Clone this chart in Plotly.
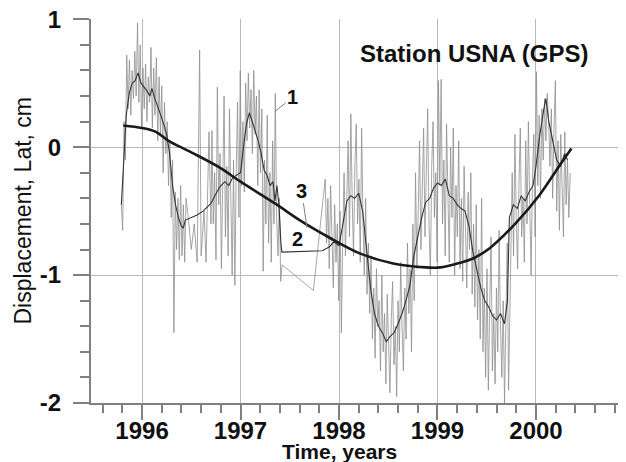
import numpy as np
import plotly.graph_objects as go

# ---------------- data (cm, years) ----------------
STEP = 5 / 365.25  # sampling step of the raw series (5 days)

raw_a_start = 1995.79
raw_a = [-0.45, -0.65, 0.20, -0.10, 0.72, 0.30, 0.68, 0.25, 0.60, 0.38,
         0.75, 0.40, 0.97, 0.35, 0.80, 0.15, 0.62, 0.30, 0.65, 0.20,
         0.55, 0.35, 0.78, 0.15, 0.62, 0.25, 0.70, 0.05, 0.55, 0.10,
         0.48, -0.20, 0.35, -0.05, 0.20, -0.30, 0.05, -0.55, -0.10, -1.45,
         -0.35, -0.80, -0.40, -0.88, -0.30, -0.85, -0.45, -0.90, -0.40]

raw_b_t = [1996.47, 1996.50, 1996.53, 1996.56, 1996.585, 1996.60, 1996.63, 1996.65, 1996.68, 1996.70]
raw_b = [-0.55, -0.80, -0.60, -0.90, 0.76, -0.85, -0.50, -0.90, 0.12, -0.60]

raw_c_start = 1996.71
raw_c = [0.13, -0.60, -0.20, -0.88, 0.47, -0.45, -0.05, -0.95, -0.25, 0.40,
         -0.70, -0.15, -0.85, 0.30, -0.40, -1.00, -0.10, -1.08, -0.20, 0.35,
         -0.55, 0.60, -0.30, 0.20, -0.35, 0.50, 0.05, 0.58, 0.15, 0.45,
         -0.05, 0.60, 0.10, 0.40, -0.30, 0.45, -0.20, 0.30, -0.97, -0.10,
         -0.60, 0.25, -0.75, -0.20, -0.90, 0.05, -0.60, 0.42, -0.55, -0.85,
         -0.40, -1.05, -0.92]

raw_gap_t = [1997.74]
raw_gap = [-1.12]

raw_d_start = 1997.86
raw_d = [-0.25, -0.75, -0.40, -0.95, -0.30, -0.80, -1.10, -0.45, -0.90, -0.60,
         -1.20, -0.50, -1.45, -0.70, -0.20, -0.85, -0.35, 0.05, -0.70, 0.26,
         -0.40, -0.85, -0.15, 0.18, -0.60, -0.25, -0.90, 0.15, -0.55, -1.00,
         -0.40, -1.15, -0.75, -1.30, -0.85, -1.50, -1.10, -1.65, -0.95, -1.40,
         -1.20, -1.75, -1.00, -1.60, -1.30, -1.85, -1.15, -1.50, -1.92, -1.35,
         -1.05, -1.70, -1.40, -1.95, -1.20, -1.60, -0.90, -1.40, -1.75, -1.10,
         -1.50, -0.75, -1.30, -0.95, -1.60, -0.60, -1.20, -0.20, -0.95, -0.50,
         0.05, -0.80, -0.35, 0.15, -0.70, -0.25, 0.30, -0.60, -1.00, -0.15,
         0.20, -0.55, -0.20, -0.90, 0.52, -0.30, 0.53, -0.60, -0.10, -0.85,
         0.18, -0.35, -0.90, 0.00, -0.55, 0.15, -1.00, -0.30, -0.70, 0.05,
         -0.95, -0.40, -1.05, -0.15, -0.60, -1.10, -0.35, -0.80, -0.20, -1.15,
         -0.60, -1.25, -0.45, -1.35, -0.80, -1.50, -0.40, -1.60, -1.10, -1.80,
         -0.95, -1.90, -1.25, -0.70, -1.75, -1.30, -1.85, -1.10, -1.60, -0.65,
         -1.40, -1.80, -1.20, -2.00, -1.35, -0.75, -1.90, -1.30]

raw_e_start = 1999.745
raw_e = [-0.60, -0.20, -0.85, 0.10, -0.55, -0.95, -0.30, 0.15, -0.70, -0.40,
         -0.90, 0.05, -0.60, 0.20, -0.45, -1.00, -0.25, 0.10, -0.70, 0.59,
         -0.30, 0.25, -0.40, 0.30, -0.10, 0.38, 0.05, 0.42, 0.20, -0.15,
         0.30, -0.40, 0.15, 0.52, -0.50, 0.05, -0.65, 0.10, -0.30, -0.70,
         0.12, -0.45, -0.10, -0.55, -0.20]

smooth_t = [1995.79, 1995.81, 1995.84, 1995.87, 1995.90, 1995.93, 1995.96, 1995.99, 1996.02, 1996.05,
            1996.08, 1996.10, 1996.13, 1996.16, 1996.19, 1996.22, 1996.25, 1996.28, 1996.31, 1996.34,
            1996.37, 1996.40, 1996.42, 1996.44, 1996.50, 1996.56, 1996.62, 1996.66, 1996.70, 1996.74,
            1996.79, 1996.84, 1996.88, 1996.92, 1996.96, 1997.00, 1997.03, 1997.06, 1997.09, 1997.12,
            1997.15, 1997.18, 1997.21, 1997.24, 1997.27, 1997.30, 1997.33, 1997.35, 1997.37, 1997.39,
            1997.41, 1997.42, 1997.83, 1997.90, 1997.95, 1998.00, 1998.04, 1998.08, 1998.12, 1998.16,
            1998.20, 1998.24, 1998.28, 1998.32, 1998.36, 1998.40, 1998.44, 1998.48, 1998.52, 1998.56,
            1998.60, 1998.64, 1998.68, 1998.72, 1998.76, 1998.80, 1998.84, 1998.88, 1998.92, 1998.96,
            1999.00, 1999.04, 1999.08, 1999.12, 1999.16, 1999.20, 1999.24, 1999.28, 1999.32, 1999.36,
            1999.40, 1999.44, 1999.48, 1999.52, 1999.56, 1999.60, 1999.64, 1999.68, 1999.71, 1999.73,
            1999.77, 1999.81, 1999.85, 1999.89, 1999.93, 1999.97, 2000.00, 2000.04, 2000.08, 2000.10,
            2000.13, 2000.17, 2000.21, 2000.25, 2000.29, 2000.32]
smooth_v = [-0.45, -0.20, 0.25, 0.42, 0.50, 0.52, 0.58, 0.50, 0.47, 0.44,
            0.40, 0.46, 0.38, 0.32, 0.25, 0.18, 0.10, -0.05, -0.30, -0.45,
            -0.55, -0.62, -0.63, -0.57, -0.55, -0.53, -0.50, -0.47, -0.44, -0.38,
            -0.31, -0.27, -0.30, -0.24, -0.22, -0.20, 0.00, 0.18, 0.27, 0.20,
            0.12, 0.05, -0.05, -0.18, -0.22, -0.30, -0.27, -0.42, -0.30, -0.45,
            -0.75, -0.82, -0.81, -0.78, -0.74, -0.77, -0.60, -0.42, -0.38, -0.40,
            -0.36, -0.50, -0.80, -1.10, -1.30, -1.40, -1.45, -1.52, -1.48, -1.45,
            -1.38, -1.30, -1.20, -1.08, -0.85, -0.70, -0.55, -0.43, -0.40, -0.32,
            -0.28, -0.30, -0.25, -0.38, -0.40, -0.45, -0.48, -0.50, -0.62, -0.82,
            -0.95, -1.10, -1.20, -1.25, -1.32, -1.35, -1.30, -1.38, -1.20, -0.55,
            -0.45, -0.48, -0.38, -0.42, -0.35, -0.30, -0.15, 0.10, 0.30, 0.38,
            0.20, 0.05, -0.10, -0.15, -0.05, -0.10]

trend_t = [1995.81, 1996.00, 1996.14, 1996.27, 1996.50, 1996.79, 1997.00, 1997.35, 1997.60, 1997.91,
           1998.21, 1998.55, 1998.88, 1999.03, 1999.20, 1999.36, 1999.53, 1999.80, 2000.03, 2000.26, 2000.36]
trend_v = [0.17, 0.15, 0.12, 0.05, -0.04, -0.16, -0.27, -0.44, -0.57, -0.71,
           -0.83, -0.91, -0.94, -0.94, -0.91, -0.87, -0.79, -0.59, -0.38, -0.12, -0.01]

y_ticks = [1, 0, -1, -2]
y_tick_text = ["1", "0", "-1", "-2"]
x_ticks = [1996, 1997, 1998, 1999, 2000]
x_tick_text = ["1996", "1997", "1998", "1999", "2000"]

# ---------------- assemble raw series ----------------
def grid(start, vals):
    return list(start + STEP * np.arange(len(vals)))

raw_t = (grid(raw_a_start, raw_a) + raw_b_t + grid(raw_c_start, raw_c) + raw_gap_t
         + grid(raw_d_start, raw_d) + grid(raw_e_start, raw_e))
raw_v = raw_a + raw_b + raw_c + raw_gap + raw_d + raw_e

FONT = "Liberation Sans, Arial, sans-serif"

fig = go.Figure()
fig.add_trace(go.Scatter(x=raw_t, y=raw_v, mode="lines",
                         line=dict(color="#8e8e8e", width=0.8), showlegend=False))
fig.add_trace(go.Scatter(x=smooth_t, y=smooth_v, mode="lines",
                         line=dict(color="#333333", width=1.1), showlegend=False))
fig.add_trace(go.Scatter(x=trend_t, y=trend_v, mode="lines",
                         line=dict(color="#1a1a1a", width=2.6, shape="spline", smoothing=1.0),
                         showlegend=False))

axis_common = dict(showline=True, linecolor="#808080", linewidth=2,
                   ticks="outside", tickcolor="#808080", tickwidth=2,
                   showgrid=True, gridcolor="#b8b8b8", gridwidth=1, zeroline=False,
                   automargin=False, ticklabeloverflow="allow",
                   tickfont=dict(family=FONT, size=24, color="#111", weight="bold"))

fig.update_xaxes(range=[1995.482, 2000.914], tickvals=x_ticks, ticktext=x_tick_text,
                 ticklen=15, ticklabelstandoff=-10,
                 minor=dict(dtick=0.2, tick0=1996, ticks="outside", ticklen=8,
                            tickcolor="#808080", tickwidth=2, showgrid=False),
                 **axis_common)
fig.update_yaxes(range=[-2, 1.002], tickvals=y_ticks, ticktext=y_tick_text,
                 ticklen=16, ticklabelstandoff=7,
                 minor=dict(dtick=0.2, tick0=0, ticks="outside", ticklen=9,
                            tickcolor="#808080", tickwidth=2, showgrid=False),
                 **axis_common)

annots = [
    dict(text="Station USNA (GPS)", xref="x", yref="y", x=1999.37, y=0.73,
         xanchor="center", yanchor="middle", showarrow=False,
         font=dict(family=FONT, size=24, color="#111", weight="bold")),
    dict(text="Time, years", xref="x", yref="paper", x=1998.0, y=-0.127,
         xanchor="center", yanchor="middle", showarrow=False,
         font=dict(family=FONT, size=21, color="#111", weight="bold")),
    dict(text="Displacement, Lat, cm", xref="paper", yref="paper", x=-0.128, y=0.5,
         xanchor="center", yanchor="middle",
         textangle=-90, showarrow=False, font=dict(family=FONT, size=23, color="#111")),
    dict(text="1", xref="x", yref="y", x=1997.35, y=0.28, ax=1997.53, ay=0.39,
         axref="x", ayref="y", showarrow=True, arrowhead=0, arrowwidth=1,
         arrowcolor="#808080", font=dict(family=FONT, size=20, color="#111", weight="bold")),
    dict(text="3", xref="x", yref="y", x=1997.675, y=-0.63, ax=1997.62, ay=-0.34,
         axref="x", ayref="y", showarrow=True, arrowhead=0, arrowwidth=1,
         arrowcolor="#808080", font=dict(family=FONT, size=20, color="#111", weight="bold")),
    dict(text="2", xref="x", yref="y", x=1997.58, y=-0.72, showarrow=False,
         font=dict(family=FONT, size=20, color="#111", weight="bold")),
]

# the page body adds an 8 px margin, so the figure is 8 px smaller and the
# plot margins are reduced accordingly
fig.update_layout(width=618, height=454, margin=dict(l=83, r=0, t=11, b=59),
                  paper_bgcolor="white", plot_bgcolor="white",
                  annotations=annots, showlegend=False)

fig.write_html("out.html")
